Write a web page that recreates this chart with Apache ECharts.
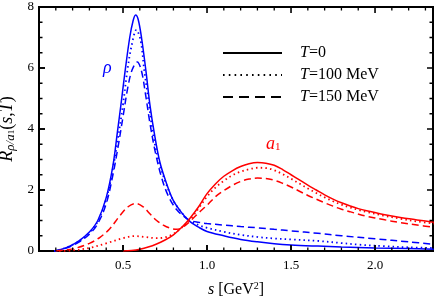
<!DOCTYPE html>
<html><head><meta charset="utf-8">
<script src="https://cdn.jsdelivr.net/npm/echarts@6/dist/echarts.min.js"></script>
<style>html,body{margin:0;padding:0;background:#fff}#c{width:436px;height:297px}</style>
</head><body><div id="c"></div>
<script>
// [s (GeV^2), R]
const rho_T0 = [[0.09,0],[0.13,0.05],[0.18,0.15],[0.24,0.34],[0.3,0.62],[0.35,1.0],[0.4,1.75],[0.44,2.8],[0.466,3.87],[0.49,4.9],[0.512,5.88],[0.54,7.0],[0.56,7.55],[0.575,7.74],[0.59,7.6],[0.61,7.0],[0.637,5.88],[0.66,4.8],[0.686,3.87],[0.72,2.9],[0.76,2.2],[0.8,1.65],[0.85,1.25],[0.895,0.98],[0.95,0.78],[1.0,0.64],[1.1,0.5],[1.2,0.38],[1.3,0.3],[1.4,0.24],[1.5,0.2],[1.66,0.16],[1.8,0.13],[2.0,0.1],[2.2,0.08],[2.35,0.06]];
const rho_T100 = [[0.09,0],[0.13,0.05],[0.18,0.15],[0.24,0.33],[0.3,0.6],[0.35,0.98],[0.4,1.7],[0.44,2.7],[0.47,3.7],[0.5,4.8],[0.525,5.88],[0.55,6.7],[0.58,7.25],[0.605,6.9],[0.627,5.9],[0.65,5.0],[0.677,3.9],[0.71,3.0],[0.75,2.3],[0.8,1.65],[0.85,1.25],[0.895,1.0],[0.95,0.85],[1.0,0.76],[1.1,0.63],[1.2,0.53],[1.3,0.46],[1.4,0.41],[1.5,0.38],[1.66,0.33],[1.8,0.26],[1.9,0.21],[2.05,0.16],[2.2,0.12],[2.35,0.1]];
const rho_T150 = [[0.09,0],[0.13,0.04],[0.18,0.13],[0.24,0.3],[0.3,0.55],[0.35,0.9],[0.4,1.55],[0.44,2.5],[0.47,3.4],[0.5,4.4],[0.53,5.4],[0.555,5.95],[0.585,6.2],[0.61,5.9],[0.635,5.1],[0.66,4.2],[0.69,3.3],[0.73,2.4],[0.77,1.8],[0.82,1.35],[0.87,1.1],[0.9,1.0],[0.95,0.94],[1.0,0.9],[1.1,0.85],[1.2,0.8],[1.3,0.76],[1.4,0.71],[1.5,0.66],[1.66,0.58],[1.8,0.5],[2.0,0.4],[2.2,0.3],[2.35,0.22]];
const a1_T0 = [[0.5,0],[0.55,0.02],[0.6,0.06],[0.65,0.13],[0.7,0.23],[0.75,0.36],[0.8,0.53],[0.85,0.78],[0.895,1.05],[0.95,1.45],[1.0,1.88],[1.05,2.2],[1.1,2.45],[1.15,2.63],[1.2,2.77],[1.25,2.86],[1.3,2.9],[1.35,2.88],[1.4,2.81],[1.45,2.67],[1.5,2.5],[1.55,2.33],[1.6,2.16],[1.65,2.0],[1.7,1.84],[1.75,1.7],[1.8,1.58],[1.85,1.48],[1.9,1.39],[1.95,1.32],[2.05,1.2],[2.15,1.1],[2.25,1.02],[2.35,0.94]];
const a1_T100 = [[0.12,0],[0.2,0.02],[0.3,0.1],[0.4,0.25],[0.5,0.42],[0.57,0.49],[0.63,0.46],[0.7,0.42],[0.75,0.45],[0.8,0.56],[0.85,0.77],[0.9,1.03],[0.95,1.4],[1.0,1.78],[1.05,2.08],[1.1,2.3],[1.15,2.48],[1.2,2.6],[1.25,2.68],[1.3,2.73],[1.35,2.72],[1.4,2.65],[1.45,2.52],[1.5,2.37],[1.55,2.21],[1.6,2.05],[1.65,1.9],[1.7,1.76],[1.75,1.63],[1.8,1.52],[1.85,1.43],[1.9,1.35],[1.95,1.28],[2.05,1.16],[2.15,1.06],[2.25,0.97],[2.35,0.9]];
const a1_T150 = [[0.1,0],[0.2,0.07],[0.3,0.25],[0.363,0.45],[0.42,0.72],[0.48,1.15],[0.53,1.45],[0.575,1.56],[0.62,1.45],[0.66,1.22],[0.7,1.0],[0.74,0.85],[0.78,0.75],[0.82,0.71],[0.86,0.8],[0.9,0.98],[0.95,1.25],[1.0,1.5],[1.05,1.78],[1.1,1.98],[1.15,2.15],[1.2,2.28],[1.25,2.36],[1.3,2.39],[1.35,2.38],[1.4,2.32],[1.45,2.22],[1.5,2.1],[1.55,1.96],[1.6,1.82],[1.65,1.7],[1.7,1.58],[1.75,1.47],[1.8,1.37],[1.85,1.29],[1.9,1.21],[1.95,1.14],[2.05,1.03],[2.15,0.93],[2.25,0.85],[2.35,0.78]];
const legendNames = ['T=0','T=100 MeV','T=150 MeV'];
const xMajorTicks = [0.5,1.0,1.5,2.0];
const xMinorTicks = [0.1,0.2,0.3,0.4,0.6,0.7,0.8,0.9,1.1,1.2,1.3,1.4,1.6,1.7,1.8,1.9,2.1,2.2,2.3];
const yMajorTicks = [2,4,6];
const yMinorTicks = [0.5,1,1.5,2.5,3,3.5,4.5,5,5.5,6.5,7,7.5];
const X_MIN = 0, X_MAX = 2.345, Y_MIN = 0, Y_MAX = 8;

const SERIF = '"Liberation Serif","DejaVu Serif",serif';
const BLUE = '#0000ff', RED = '#ff0000';
const dashTypes = ['solid',[1.5,3.2],[7,4]];

// layout of the plot box (pixels)
const G_LEFT = 39, G_RIGHT = 3, G_TOP = 7, G_BOTTOM = 46, W = 436, H = 297;
const PX_X = (X_MAX - X_MIN) / (W - G_LEFT - G_RIGHT);   // data units per pixel (x)
const PX_Y = (Y_MAX - Y_MIN) / (H - G_TOP - G_BOTTOM);   // data units per pixel (y)

// inward tick marks on all four sides, as short segments through the axes' scales
function xTickData(values, lenPx){
  const d = [], L = lenPx * PX_Y;
  values.forEach(v => { d.push([v, Y_MIN], [v, Y_MIN + L], null, [v, Y_MAX], [v, Y_MAX - L], null); });
  return d;
}
function yTickData(values, lenPx){
  const d = [], L = lenPx * PX_X;
  values.forEach(v => { d.push([X_MIN, v], [X_MIN + L, v], null, [X_MAX, v], [X_MAX - L, v], null); });
  return d;
}
function tickLine(data, w){
  return {type:'line', data:data, symbol:'none', showSymbol:false, smooth:false, connectNulls:false,
    clip:false, silent:true, z:10, lineStyle:{color:'#000', width:w, cap:'butt'}};
}
const series = [
  tickLine(xTickData(xMajorTicks, 6), 1.6), tickLine(xTickData(xMinorTicks, 3.5), 1.3),
  tickLine(yTickData(yMajorTicks, 6), 1.6), tickLine(yTickData(yMinorTicks, 3.5), 1.3)
];

function curve(data, color, k){
  return {type:'line', data:data, showSymbol:false, symbol:'none', smooth:0.35,
    lineStyle:{color:color, width:k===1?1.8:1.5, type:dashTypes[k], cap:'butt'}, z:3};
}
series.push(
  curve(rho_T0,BLUE,0), curve(rho_T100,BLUE,1), curve(rho_T150,BLUE,2),
  curve(a1_T0,RED,0), curve(a1_T100,RED,1), curve(a1_T150,RED,2)
);
legendNames.forEach((n,k)=>{
  series.push({type:'line', name:n, data:[], symbol:'none', symbolSize:0, showSymbol:false, color:'#000',
    lineStyle:{color:'#000', width:1.6, type:k===1?[1.6,4.2]:(k===2?[10,6]:'solid')}});
});

const chart = echarts.init(document.getElementById('c'), null, {renderer:'canvas'});
chart.setOption({
  animation:false,
  grid:{left:G_LEFT, right:G_RIGHT, top:G_TOP, bottom:G_BOTTOM, containLabel:false, outerBoundsMode:'none',
    show:true, borderColor:'#000', borderWidth:2, backgroundColor:'transparent'},
  legend:{
    data:legendNames, orient:'vertical', left:222, top:45, padding:0,
    itemWidth:59, itemHeight:14, itemGap:6,
    itemStyle:{opacity:0},
    formatter:function(n){ return '{i|T}' + n.slice(1); },
    textStyle:{fontFamily:SERIF, fontSize:16, color:'#000', padding:[0,0,0,13],
      rich:{i:{fontFamily:SERIF, fontStyle:'italic', fontSize:16, color:'#000'}}}
  },
  xAxis:{type:'value', min:X_MIN, max:X_MAX, interval:0.5,
      axisLine:{show:true, onZero:false, lineStyle:{color:'#000', width:2}},
      axisTick:{show:true, inside:true, length:6, lineStyle:{color:'#000', width:1.6}},
      axisLabel:{show:true, margin:8, fontFamily:SERIF, fontSize:13, color:'#000', showMaxLabel:false,
        formatter:function(v){ return v===0 ? '' : v.toFixed(1); }},
      splitLine:{show:false},
      name:'{i|s} [GeV{sup|2}]', nameLocation:'middle', nameGap:30,
      nameTextStyle:{fontFamily:SERIF, fontSize:16, color:'#000',
        rich:{i:{fontFamily:SERIF, fontStyle:'italic', fontSize:16, color:'#000'},
              sup:{fontFamily:SERIF, fontSize:10, color:'#000', verticalAlign:'top', padding:[0,0,8,0]}}}
  },
  yAxis:{type:'value', min:Y_MIN, max:Y_MAX, interval:2,
      axisLine:{show:true, onZero:false, lineStyle:{color:'#000', width:2}},
      axisTick:{show:true, inside:true, length:6, lineStyle:{color:'#000', width:1.6}},
      axisLabel:{show:true, margin:5, fontFamily:SERIF, fontSize:13, color:'#000'},
      splitLine:{show:false},
      name:'{i|R}{sub|ρ/a}{sub1|1}{n|(}{i|s}{n|,}{i|T}{n|)}', nameLocation:'middle', nameRotate:90, nameGap:20,
      nameTextStyle:{fontFamily:SERIF, fontSize:18, color:'#000',
        rich:{i:{fontFamily:SERIF, fontStyle:'italic', fontSize:18, color:'#000', verticalAlign:'bottom', lineHeight:22},
              n:{fontFamily:SERIF, fontSize:18, color:'#000', verticalAlign:'bottom', lineHeight:22},
              sub:{fontFamily:SERIF, fontStyle:'italic', fontSize:13, color:'#000', verticalAlign:'bottom', lineHeight:15},
              sub1:{fontFamily:SERIF, fontSize:9, color:'#000', verticalAlign:'bottom', lineHeight:13}}}
  },
  graphic:[
    {type:'text', left:103, top:59, style:{text:'ρ', fontFamily:SERIF, fontStyle:'italic', fontSize:18, fill:BLUE}},
    {type:'text', left:266, top:135, style:{text:'{a|a}{s|1}', fontFamily:SERIF, fontSize:18, fill:RED,
      rich:{a:{fontFamily:SERIF, fontStyle:'italic', fontSize:18, fill:RED, color:RED, verticalAlign:'bottom', lineHeight:18},
            s:{fontFamily:SERIF, fontSize:11, fill:RED, color:RED, verticalAlign:'bottom', lineHeight:12}}}}
  ],
  series:series
});
</script></body></html>
